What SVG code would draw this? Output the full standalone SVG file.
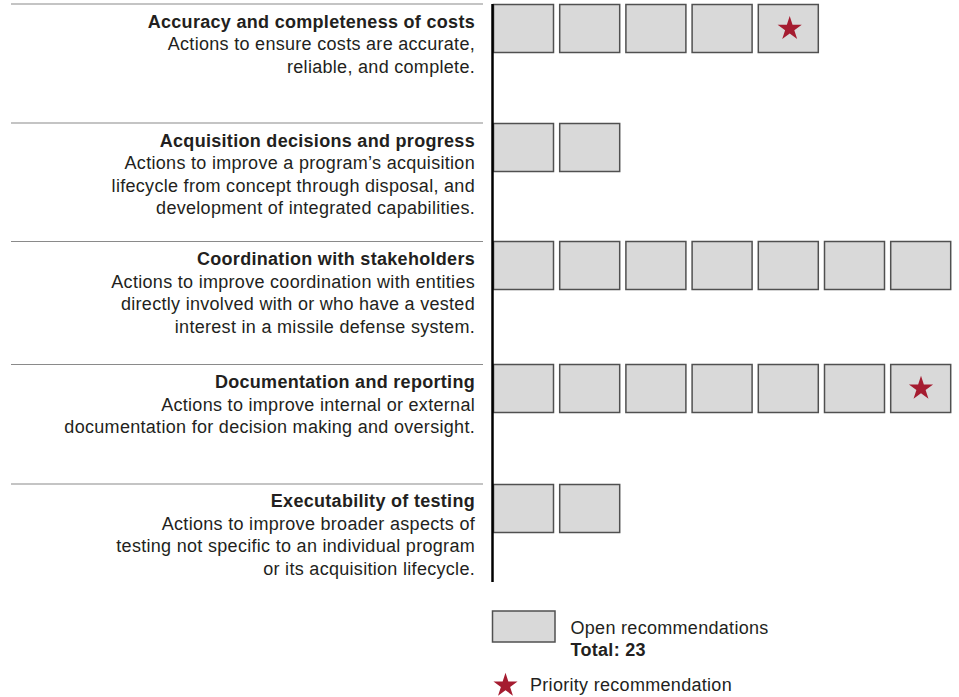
<svg xmlns="http://www.w3.org/2000/svg" xmlns:xlink="http://www.w3.org/1999/xlink" width="959" height="697" viewBox="0 0 959 697">
<style>
text{font-family:"Liberation Sans",Arial,sans-serif;fill:#231f20;font-size:18px;letter-spacing:0.3px}
.t{font-weight:bold;text-anchor:end}
.d{text-anchor:end}
.b{fill:#d9d9d9;stroke:#505050;stroke-width:1.5}
.sep{stroke:#8a8a8a;stroke-width:1.2}
.star{fill:#a51c30}
</style>
<defs>
<path id="star" class="star" d="M0,-12.7 L2.85,-3.92 L12.08,-3.92 L4.61,1.5 L7.46,10.27 L0,4.85 L-7.46,10.27 L-4.61,1.5 L-12.08,-3.92 L-2.85,-3.92 Z"/>
<rect id="box" class="b" width="60" height="48"/>
</defs>
<g id="separators">
<line class="sep" x1="11" y1="4" x2="483" y2="4"/>
<line class="sep" x1="11" y1="123" x2="483" y2="123"/>
<line class="sep" x1="11" y1="241.5" x2="483" y2="241.5"/>
<line class="sep" x1="11" y1="364.5" x2="483" y2="364.5"/>
<line class="sep" x1="11" y1="484" x2="483" y2="484"/>
</g>
<g id="row1">
<text class="t" x="475" y="27.5">Accuracy and completeness of costs</text>
<text class="d" x="475" y="50">Actions to ensure costs are accurate,</text>
<text class="d" x="475" y="72.5">reliable, and complete.</text>
<use xlink:href="#box" x="493.5" y="4.5"/>
<use xlink:href="#box" x="559.7" y="4.5"/>
<use xlink:href="#box" x="625.9" y="4.5"/>
<use xlink:href="#box" x="692.1" y="4.5"/>
<use xlink:href="#box" x="758.3" y="4.5"/>
<use xlink:href="#star" x="789.7" y="28.7"/>
</g>
<g id="row2">
<text class="t" x="475" y="146.5">Acquisition decisions and progress</text>
<text class="d" x="475" y="169">Actions to improve a program’s acquisition</text>
<text class="d" x="475" y="191.5">lifecycle from concept through disposal, and</text>
<text class="d" x="475" y="214">development of integrated capabilities.</text>
<use xlink:href="#box" x="493.5" y="123.5"/>
<use xlink:href="#box" x="559.7" y="123.5"/>
</g>
<g id="row3">
<text class="t" x="475" y="265">Coordination with stakeholders</text>
<text class="d" x="475" y="287.5">Actions to improve coordination with entities</text>
<text class="d" x="475" y="310">directly involved with or who have a vested</text>
<text class="d" x="475" y="332.5">interest in a missile defense system.</text>
<use xlink:href="#box" x="493.5" y="241.5"/>
<use xlink:href="#box" x="559.7" y="241.5"/>
<use xlink:href="#box" x="625.9" y="241.5"/>
<use xlink:href="#box" x="692.1" y="241.5"/>
<use xlink:href="#box" x="758.3" y="241.5"/>
<use xlink:href="#box" x="824.5" y="241.5"/>
<use xlink:href="#box" x="890.7" y="241.5"/>
</g>
<g id="row4">
<text class="t" x="475" y="388">Documentation and reporting</text>
<text class="d" x="475" y="410.5">Actions to improve internal or external</text>
<text class="d" x="475" y="433">documentation for decision making and oversight.</text>
<use xlink:href="#box" x="493.5" y="364.5"/>
<use xlink:href="#box" x="559.7" y="364.5"/>
<use xlink:href="#box" x="625.9" y="364.5"/>
<use xlink:href="#box" x="692.1" y="364.5"/>
<use xlink:href="#box" x="758.3" y="364.5"/>
<use xlink:href="#box" x="824.5" y="364.5"/>
<use xlink:href="#box" x="890.7" y="364.5"/>
<use xlink:href="#star" x="921" y="388.5"/>
</g>
<g id="row5">
<text class="t" x="475" y="507">Executability of testing</text>
<text class="d" x="475" y="529.5">Actions to improve broader aspects of</text>
<text class="d" x="475" y="552">testing not specific to an individual program</text>
<text class="d" x="475" y="574.5">or its acquisition lifecycle.</text>
<use xlink:href="#box" x="493.5" y="484.5"/>
<use xlink:href="#box" x="559.7" y="484.5"/>
</g>
<g id="axis">
<line x1="492.5" y1="4" x2="492.5" y2="582" stroke="#000" stroke-width="2.5"/>
</g>
<g id="legend">
<rect class="b" x="492.5" y="611" width="62.5" height="31"/>
<text x="570.5" y="633.5">Open recommendations</text>
<text x="570.5" y="656" font-weight="bold">Total: 23</text>
<use xlink:href="#star" x="505.5" y="685.5"/>
<text x="530" y="690.5">Priority recommendation</text>
</g>
</svg>
